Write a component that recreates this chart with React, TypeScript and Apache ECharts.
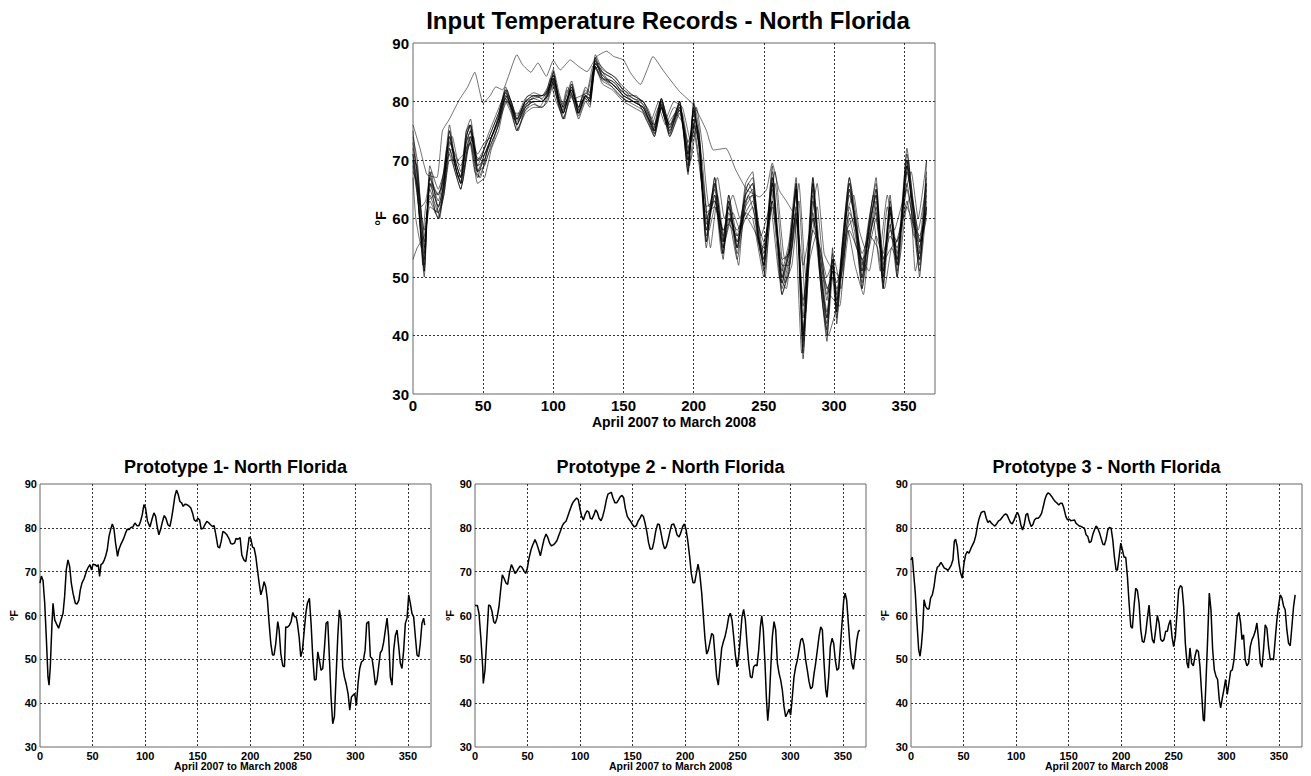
import React, { useEffect, useRef } from "react";
import * as echarts from "echarts";

// ---------- Top chart: input station records (values at shared event days) ----------
const TOP_DAYS = [
  0, 3, 8, 12, 18, 22, 26, 30, 34, 38,
  41, 46, 51, 56, 61, 66, 70, 74, 80, 86,
  92, 96, 100, 104, 107, 113, 118, 123, 126, 130,
  135, 142, 150, 157, 164, 168, 172, 177, 183, 190,
  196, 200, 204, 209, 215, 221, 225, 231, 237, 242,
  246, 250, 256, 263, 268, 273, 278, 285, 290, 295,
  299, 302, 306, 311, 316, 320, 325, 330, 335, 340,
  345, 352, 357, 361, 366,
];

const station1 = [
  71, 66, 50, 68, 62, 66, 75, 69, 66, 74,
  76, 68, 70, 74, 77, 82, 79, 76, 79.5, 80,
  80, 81, 85, 80, 78, 83, 78, 81, 80.5, 87.5,
  84, 83, 81, 80, 79, 77, 74.5, 80, 74.5, 80,
  67.5, 79, 72, 55, 66, 53, 63, 54, 64, 66,
  57, 51, 67, 48, 53, 66, 38, 66, 51, 42,
  53, 44, 55, 66, 58, 49, 58, 65, 49, 62,
  51, 70, 60, 52, 66,
];
const station2 = [
  72, 68, 52, 66, 64, 68, 74, 70, 67, 73,
  75, 70, 72, 75, 78, 81.5, 80, 77, 80, 81,
  80.5, 82, 84, 81, 79, 82, 79, 82, 81, 86.5,
  85, 84, 82, 80.5, 80, 78, 75, 80.5, 75.5, 79.5,
  70, 78, 74, 58, 64, 55, 61, 56, 63, 65,
  58, 53, 65, 50, 55, 64, 41, 63, 53, 44,
  52, 46, 54, 64, 59, 51, 59, 64, 51, 61,
  53, 68, 61, 55, 64,
];
const station3 = [
  53, 55, 57, 63, 60, 64, 71, 68, 65, 70,
  74, 68, 69, 73, 76, 80.5, 78.5, 75, 78.5, 79.5,
  79, 80.5, 83.5, 79.5, 77, 81.5, 77.5, 80.5, 79.5, 86,
  83.5, 82.5, 80.5, 79.5, 78.5, 76.5, 74, 79, 74, 78.5,
  72, 76, 70, 60, 63, 54, 60, 53, 61, 60,
  55, 50, 63, 47, 51, 62, 37, 61, 50, 40,
  50, 43, 52, 62, 56, 48, 56, 62, 48, 59,
  50, 66, 58, 51, 62,
];
const station4 = [
  69, 64, 53, 67, 63, 67, 73, 71, 68, 75,
  77, 70, 71, 74, 77.5, 82.5, 80, 77.5, 80.5, 81.5,
  81, 82.5, 85.5, 81.5, 79.5, 83.5, 79, 82.5, 81.5, 88,
  85.5, 84.5, 82.5, 81, 80, 78.5, 76, 80.5, 76, 80,
  68, 80, 75, 56, 67, 56, 64, 55, 65, 67,
  59, 54, 68, 51, 56, 67, 43, 67, 54, 46,
  54, 47, 56, 67, 60, 52, 60, 66, 52, 63,
  54, 71, 62, 56, 68,
];
const station5 = [
  74, 70, 55, 65, 61, 65, 72, 69, 66, 72,
  73, 67, 71, 73, 76, 81, 79.5, 76, 79, 80,
  80, 81, 84, 80, 78, 82, 78, 81, 80, 87,
  84.5, 83, 81, 80, 79, 77, 75, 79.5, 75, 79,
  70, 77, 72, 58, 65, 55, 62, 55, 62, 64,
  56, 52, 66, 49, 54, 65, 40, 65, 52, 43,
  51, 45, 53, 65, 57, 50, 57, 63, 50, 62,
  52, 69, 59, 53, 65,
];
const station6 = [
  70, 65, 51, 69, 65, 68, 76, 70, 67, 73,
  75, 69, 70, 74, 77, 81, 79, 76.5, 80, 80.5,
  81, 81.5, 85, 80.5, 78, 82.5, 78.5, 81, 80.5, 87,
  84, 83.5, 81.5, 80.5, 79.5, 77.5, 75, 80, 75, 79.5,
  69, 78.5, 73, 59, 66, 57, 62, 56, 63, 64,
  58, 52, 66, 50, 54, 65, 39, 64, 52, 41,
  52, 44, 55, 65, 58, 50, 58, 64, 50, 61,
  52, 69, 60, 53, 63,
];
const station7 = [
  68, 66, 58, 64, 60, 65, 72, 68, 65, 71,
  73, 66, 67, 72, 75, 80, 78, 75, 78, 79,
  79, 80, 83, 79, 77, 81, 77, 80, 79, 86,
  83, 82, 80, 79, 78, 76, 74, 79, 74, 78,
  71, 75, 69, 61, 62, 58, 59, 57, 60, 62,
  56, 55, 62, 52, 52, 60, 45, 58, 55, 48,
  50, 48, 51, 60, 55, 53, 55, 60, 53, 57,
  55, 63, 57, 56, 60,
];
const station8 = [
  73, 67, 54, 66, 62, 66, 74, 69, 66, 74,
  76, 69, 72, 75, 78, 82, 80, 77, 80, 81,
  81, 82, 84.5, 80, 78.5, 83, 78, 81.5, 81, 87.5,
  85, 84, 82, 81, 80, 78, 75.5, 80.5, 75.5, 80,
  71, 79, 74, 57, 64, 54, 63, 55, 66, 68,
  57, 52, 69, 47, 52, 65, 36, 67, 50, 39,
  55, 42, 56, 67, 57, 48, 59, 67, 48, 64,
  50, 72, 61, 50, 70,
];
const station9 = [
  70, 69, 56, 62, 61, 64, 70, 70, 69, 72,
  74, 71, 73, 74, 76.5, 80.5, 79, 77, 79, 80,
  80, 81, 83.5, 80.5, 79, 82, 79, 81, 80, 86,
  84, 83, 81, 80, 79, 77, 76, 79, 76, 78.5,
  73, 76, 73, 62, 63, 58, 60, 58, 61, 63,
  59, 56, 63, 53, 54, 61, 46, 60, 54, 47,
  51, 49, 53, 61, 58, 54, 57, 61, 54, 58,
  56, 65, 59, 57, 61,
];
const station10 = [
  71, 65, 51, 67, 64, 67, 75, 70, 67, 75,
  76, 68, 71, 74, 77, 81.5, 79, 76, 79.5, 80.5,
  80, 81.5, 84.5, 80, 78, 82.5, 78, 81, 80, 86.5,
  84.5, 83, 81.5, 80, 79, 77, 74.5, 79.5, 74.5, 79,
  68, 79.5, 72, 56, 67, 56, 64, 57, 64, 66,
  57, 53, 67, 49, 55, 66, 40, 66, 52, 43,
  53, 46, 55, 66, 59, 51, 58, 65, 51, 62,
  53, 70, 61, 54, 67,
];

// stations sampled on their own days
const DAYS_A = [
  0, 2, 6, 9, 13, 16, 20, 24, 28, 32,
  36, 40, 44, 48, 53, 58, 63, 67, 72, 76,
  82, 88, 94, 98, 102, 106, 110, 115, 120, 124,
  128, 132, 138, 145, 152, 159, 165, 170, 175, 180,
  186, 192, 198, 202, 206, 211, 217, 222, 228, 233,
  239, 244, 248, 253, 258, 265, 270, 275, 280, 283,
  288, 293, 297, 304, 309, 314, 318, 322, 328, 333,
  338, 343, 349, 355, 360, 366,
];
const station12 = [
  67, 60, 55, 62, 66, 61, 63, 70, 72, 67,
  68, 74, 68, 67, 72, 75, 79, 81, 77, 77,
  80, 81, 80, 83, 80, 78, 82, 80, 80, 81,
  85, 86, 84, 83, 80, 80, 78, 76, 79, 76,
  79, 78, 70, 76, 70, 58, 64, 56, 61, 58,
  64, 60, 54, 59, 66, 49, 52, 63, 44, 55,
  62, 50, 47, 45, 58, 60, 55, 51, 60, 51,
  62, 55, 60, 64, 58, 66,
];
const station13 = [
  75, 70, 62, 63, 68, 64, 65, 72, 74, 70,
  71, 76, 71, 70, 74, 77, 80, 82, 78, 78,
  81, 81, 81, 84, 81, 79, 82.5, 80.5, 81, 81.5,
  86, 86.5, 85, 84, 81, 81, 79, 77, 80, 77,
  80, 79, 73, 79, 73, 62, 67, 60, 64, 60,
  66, 63, 57, 61, 68, 53, 55, 66, 50, 58,
  66, 54, 52, 50, 61, 64, 58, 55, 64, 55,
  64, 58, 63, 68, 60, 70,
];
const DAYS_B = [
  0, 4, 7, 11, 15, 19, 24, 27, 31, 35,
  39, 43, 47, 52, 57, 62, 67, 71, 75, 79,
  85, 90, 95, 99, 103, 108, 112, 117, 121, 125,
  129, 134, 140, 147, 154, 160, 166, 171, 176, 181,
  187, 193, 197, 201, 207, 212, 216, 220, 226, 232,
  236, 241, 247, 251, 255, 261, 266, 272, 277, 282,
  287, 292, 296, 301, 305, 310, 315, 321, 326, 331,
  336, 341, 347, 353, 358, 366,
];
const station14 = [
  70, 62, 52, 63, 64, 60, 71, 73, 68, 66,
  72, 74, 67, 70, 73, 77, 80, 79, 75, 78,
  80, 79, 81, 84, 80, 77, 82, 78, 81, 80,
  86, 84, 83, 81, 80, 80, 77, 75, 80, 76,
  78, 76, 69, 77, 66, 55, 62, 54, 60, 52,
  61, 59, 56, 50, 62, 50, 48, 60, 37, 52,
  57, 45, 40, 44, 50, 58, 52, 47, 57, 55,
  48, 55, 57, 70, 51, 62,
];

// warm outlier station
const OUTLIER_DAYS = [
  0, 5, 10, 17, 21, 26, 33, 39, 44, 50,
  55, 59, 64, 68, 74, 78, 84, 89, 95, 100,
  105, 112, 118, 124, 131, 138, 143, 150, 155, 162,
  167, 171, 178, 184, 190, 200, 209, 214, 223, 230,
  238, 247, 252, 256, 261, 266, 273, 278, 285, 290,
  295, 300, 305, 311, 318, 325, 330, 336, 341, 346,
  352, 358, 362, 366,
];
const outlierTemps = [
  76, 72, 67.5, 67, 75, 77, 80.3, 82.5, 85, 79.7,
  81, 82.5, 82, 84.3, 88, 86.3, 85, 86.6, 84.3, 87,
  85.4, 87.1, 86, 85.1, 87.7, 88.6, 87.7, 87.1, 84.9, 82.9,
  85.5, 87.7, 85.4, 83.5, 81.7, 79.4, 75.1, 71.7, 72, 68.3,
  64.9, 63.7, 65, 69.5, 64.8, 63, 60, 52, 60, 55,
  50, 53, 48, 58, 54, 51, 57, 53, 55, 52,
  62, 58, 56, 62,
];

// ---------- Prototypes: [day, °F] ----------
const proto1: number[][] = [
  [0, 67.4], [1.3, 69], [2.9, 68], [4.5, 62.8], [6, 55], [7.6, 46], [8.6, 44.1], [9.8, 48.3], [11.4, 58.2], [12.4, 62.8],
  [14, 59], [15.5, 58.2], [17.7, 57.1], [20, 59], [21.9, 60.5], [23.4, 64.3], [25, 70.4], [26.6, 72.7], [28.2, 71.2], [29.8, 67.4],
  [31.4, 65.1], [33.6, 62.8], [35.2, 62.6], [37, 63.5], [38.3, 65.8], [39.9, 67.4], [42.1, 68.5], [44, 70], [45.9, 71], [47.5, 71.6],
  [49.1, 70.4], [50.4, 71.7], [52.3, 71.6], [54.2, 71.2], [55.4, 71.6], [56.7, 68.9], [58, 71.6], [59.6, 71.9], [61.2, 72.7], [62.4, 73.5],
  [64, 75], [65.6, 78], [67.2, 79.6], [68.8, 80.9], [70.3, 79.9], [71.9, 76.5], [73.8, 73.5], [75, 75], [76.7, 76.1], [78.3, 76.9],
  [79.8, 77.7], [81.4, 78.8], [83, 79.7], [84.9, 79.6], [86.5, 80.1], [88.4, 80.2], [90.3, 81.1], [92.2, 80.5], [94.1, 80.5], [95.7, 81.5],
  [97.3, 83], [98.9, 85.3], [100.4, 84.5], [102.3, 81.5], [104.6, 80.2], [106.8, 82.2], [108.4, 83.4], [110, 82.6], [111.5, 80.3], [113.1, 78.4],
  [114.7, 79.6], [116.6, 81.5], [118.2, 82.8], [119.8, 82.2], [121.7, 80.7], [123.6, 80.3], [125.2, 82.2], [126.7, 84.5], [128.3, 87.2], [129.9, 88.6],
  [131.5, 87.6], [133.1, 86], [134.7, 85.7], [136.3, 84.9], [137.8, 85.4], [139.7, 85.3], [141.6, 85], [143.5, 84.5], [145.1, 83.4], [146.7, 81.8],
  [148.6, 81.5], [150.2, 82.2], [151.8, 81.8], [153.4, 79.7], [155.3, 79.9], [156.8, 80.7], [158.7, 81.5], [160.3, 81.2], [162.2, 80.7], [164.1, 80.3],
  [165.7, 80.5], [167.6, 78], [169.2, 75.7], [170.8, 75.4], [172.4, 76.9], [174, 79.2], [175.9, 78.9], [177.8, 78.4], [179.7, 77.6], [181.6, 76.4],
  [183.1, 76.3], [185, 76.5], [186.6, 77.6], [188.5, 77.4], [190.4, 77.8], [192, 73.8], [193.9, 72.7], [195.8, 72.3], [197.4, 75], [199, 77.9],
  [200.6, 77.5], [202.2, 75.6], [203.7, 75.4], [205.3, 73.5], [206.9, 70.4], [208.5, 67.4], [210.1, 64.7], [211.7, 66], [213.2, 67.7], [214.8, 66.5],
  [216.4, 63.5], [218, 58.2], [219.6, 53.6], [221.2, 51], [222.7, 51], [224.3, 53.6], [226.2, 58.6], [227.5, 56.7], [229.1, 51.3], [231, 48.5],
  [232.6, 48.3], [233.8, 57.4], [235.4, 57.3], [237.3, 57.8], [238.9, 58.6], [240.5, 60.7], [242.1, 59.7], [243.7, 59.7], [244.9, 58.2], [246.5, 55.2],
  [248.1, 50.6], [249.7, 52.1], [251.3, 56.3], [252.9, 60.5], [254.4, 62.8], [256.3, 63.9], [257.9, 58.2], [259.5, 50.6], [261.1, 45.3], [262.7, 45.4],
  [264.3, 51.7], [265.8, 49.8], [267.4, 47.5], [269, 47.9], [270.6, 52.5], [272.2, 58.2], [273.8, 58.6], [275.3, 50.6], [276.9, 41.4], [278.5, 35.3],
  [280.1, 36.9], [281.7, 46], [283.3, 55.2], [284.8, 61.3], [286.4, 59], [288, 48.3], [289.6, 46], [291.2, 44.5], [293.1, 42.2], [294.7, 38.4],
  [296.3, 41.4], [297.8, 41.8], [299.4, 42.2], [301, 39.5], [302.6, 44.5], [304.2, 47.9], [305.8, 49.4], [307.7, 49.8], [309.3, 52.1], [310.8, 58.2],
  [312.7, 58.6], [314.3, 50.6], [315.9, 50.2], [317.5, 47.5], [319.1, 44.1], [320.7, 45.3], [322.2, 48.3], [323.8, 51.5], [325.4, 52.1], [327, 54],
  [328.6, 56.7], [330.2, 59.4], [331.7, 55.2], [333.3, 46], [334.9, 44.1], [336.5, 52.1], [338.1, 55.5], [339.7, 56.7], [341.3, 52.9], [342.8, 49.1],
  [344.4, 47.9], [346, 52.1], [347.6, 58.2], [349.2, 59.4], [350.8, 64.7], [352.3, 62.8], [353.9, 60.5], [355.5, 59.7], [357.1, 55.2], [358.7, 51],
  [360.3, 50.6], [361.8, 53.6], [363.4, 58.2], [365, 59.4], [366, 57.8],
];

const proto2: number[][] = [
  [0, 62.3], [2.2, 62.3], [3.8, 60.5], [5.7, 54.4], [7.3, 48.3], [7.9, 44.5], [9.5, 47.5], [11.1, 54.4], [13, 62.4], [14.6, 62.2],
  [16.2, 60.9], [17.8, 58.6], [19.3, 58.2], [20.9, 59.4], [22.8, 62], [24.4, 65.8], [26, 69.3], [27.6, 68.5], [29.5, 67.4], [31.1, 67.1],
  [32.7, 69.6], [34.6, 71.6], [36.2, 70.8], [38.1, 69.6], [39.6, 70], [41.5, 70.8], [43.1, 71.3], [44.7, 71], [46.6, 70.2], [48.2, 69.6],
  [49.8, 70.8], [51.4, 73.1], [53.3, 75], [54.9, 76.1], [57.1, 77.3], [58.7, 76.4], [60.6, 75], [62.2, 73.6], [64.1, 75.7], [65.7, 77.4],
  [67.6, 78.6], [69.1, 77.9], [71, 76.5], [72.6, 75.9], [74.5, 76.1], [76.1, 76.5], [78, 77.1], [79.6, 78.2], [81.2, 79.2], [83.1, 80.5],
  [84.7, 81.1], [86.6, 81.5], [88.2, 82.6], [89.8, 83.7], [91.7, 85], [93.2, 85.8], [94.8, 86.3], [96.7, 86.8], [98.3, 86.4], [99.9, 84.3],
  [101.5, 82.6], [103.1, 81.8], [104.7, 83], [106.6, 83.9], [108.2, 83.6], [109.7, 82.2], [111.3, 82], [113.2, 83], [114.8, 84.1], [116.4, 83.5],
  [118, 82.2], [119.9, 81.6], [121.5, 82.6], [123.1, 84.1], [125, 86.4], [126.5, 87.7], [128.1, 87.9], [129.7, 88.1], [131.3, 86.8], [133.2, 85.7],
  [134.8, 85.7], [136.4, 86.3], [138.3, 87.1], [139.9, 87.4], [141.5, 86.8], [143, 84.5], [144.9, 82.6], [146.5, 82], [148.1, 81.5], [150, 80.7],
  [151.6, 80.2], [153.5, 80.5], [155.1, 81.5], [157, 82.2], [158.6, 83], [160.2, 82.6], [161.8, 81.1], [163.7, 78.8], [165.2, 76.5], [166.8, 75.1],
  [168.7, 75.2], [170.3, 76.9], [171.9, 79.2], [173.8, 80.9], [175.4, 80.7], [177, 78.8], [178.9, 76.4], [180.4, 75.2], [182, 75.7], [183.9, 77.4],
  [185.5, 79.2], [187.1, 80.7], [189, 80.9], [190.6, 79.9], [192.2, 78.4], [194.1, 77.9], [195.7, 78.8], [197.6, 80.3], [199.2, 80.9], [200.8, 79.6],
  [202.3, 77.3], [204.2, 73.5], [205.8, 69.6], [207.4, 67.5], [209, 67.5], [210.6, 69.6], [212.2, 71.7], [213.8, 69.6], [215.7, 65.1], [217.3, 59.7],
  [218.8, 54.8], [220.4, 51.2], [222, 52.1], [223.6, 54], [225.2, 55.9], [226.8, 55.5], [228.4, 50.6], [229.9, 46], [231.5, 44.1], [233.1, 48.3],
  [234.7, 52.5], [236.3, 54], [237.9, 55.2], [239.8, 57.4], [241.4, 59.7], [242.9, 60.5], [244.5, 59], [246.1, 55.2], [247.7, 51], [249.3, 48.3],
  [250.9, 50.6], [252.5, 55.2], [254, 59.7], [255.6, 61.4], [257.2, 59], [258.8, 53.6], [260.4, 49.1], [262, 46], [263.6, 45.8], [265.1, 48.3],
  [266.7, 48.7], [268.3, 48.5], [269.9, 52.1], [271.5, 57.4], [272.8, 59.9], [274.3, 56.7], [275.9, 49.1], [277.2, 41.4], [278.5, 36], [279.7, 39.2],
  [281.3, 47.5], [282.9, 55.2], [284.5, 58.6], [286.1, 56.7], [287.7, 49.1], [289.3, 46.8], [290.8, 45.3], [292.4, 43], [294, 39.2], [295.6, 36.9],
  [297.2, 37.7], [298.8, 38.6], [300.3, 37.3], [301.9, 41.4], [303.5, 46], [305.1, 48.3], [306.7, 49.8], [308.3, 52.1], [309.9, 54.4], [311.4, 54.8],
  [313, 53.3], [314.6, 49.8], [316.2, 47.5], [317.8, 44.9], [319.4, 43.3], [321, 43.7], [322.6, 46.8], [324.1, 49.1], [325.7, 52.1], [327.3, 55.2],
  [328.9, 57.4], [330.5, 56.7], [332.1, 49.1], [333.7, 43], [334.9, 41.3], [336.5, 46], [338.1, 52.9], [339.7, 54.8], [341.3, 53.6], [342.8, 49.8],
  [344.4, 47.5], [346, 47.9], [347.6, 52.9], [349.2, 58.2], [350.8, 63.5], [352.1, 65.1], [353.6, 63.5], [355.2, 58.2], [356.8, 52.9], [358.4, 49.1],
  [360, 47.7], [361.6, 50.6], [363.2, 54.4], [364.7, 56.3], [366, 56.7],
];

const proto3: number[][] = [
  [0, 72.7], [1.3, 73.3], [2.5, 69.7], [4.1, 65.1], [5.7, 58.3], [7.3, 52.2], [8.6, 50.7], [9.8, 52.9], [11.1, 56.7], [12.4, 63.6],
  [13.9, 62.1], [15.5, 61.5], [17.1, 61.5], [18.7, 64], [20.3, 64.7], [21.9, 66.6], [23.4, 69.3], [25, 71], [26.6, 71.3], [28.5, 72.1],
  [30.1, 71.5], [31.7, 70.8], [33.6, 70.6], [35.2, 70.3], [36.7, 70.8], [38.3, 71.5], [39.9, 72.7], [41.2, 76.9], [42.4, 77.4], [44, 75.7],
  [45.6, 71.9], [47.2, 69.7], [48.8, 68.5], [50.4, 71.9], [51.9, 73.8], [53.5, 74.6], [55.1, 74.2], [57, 75.3], [58.6, 76.1], [60.2, 76.9],
  [61.8, 78.4], [63.4, 80.7], [64.9, 82.2], [66.8, 83.5], [68.4, 83.7], [70, 83.7], [71.6, 82.2], [73.2, 81.2], [74.8, 81.6], [76.7, 81],
  [78.2, 80.7], [79.8, 80.4], [81.7, 81], [83.3, 81.6], [84.9, 81.8], [86.5, 82.3], [88.4, 82.9], [90, 83.2], [91.5, 82.9], [93.1, 82],
  [94.7, 81.2], [96.3, 80.9], [98.2, 81.8], [99.8, 82.9], [101.4, 83.5], [102.9, 82.6], [104.5, 80.7], [106.1, 79.5], [107.7, 80.7], [109.3, 82.9],
  [110.9, 83.3], [112.4, 81.6], [114.3, 80.3], [115.9, 80.7], [117.5, 81.8], [119.1, 82.2], [121, 82.2], [122.6, 82.6], [124.2, 83.3], [125.8, 84.8],
  [127.3, 86.4], [128.9, 87.5], [130.5, 88], [132.1, 87.7], [134, 87.1], [135.6, 86.5], [137.2, 86], [138.7, 85.7], [140.6, 85.2], [142.2, 85.6],
  [143.8, 85.6], [145.4, 84.5], [147.3, 82.6], [148.9, 81.8], [150.5, 82], [152, 81.6], [153.6, 81.7], [155.5, 81.8], [157.1, 81], [158.7, 80.7],
  [160.3, 80.4], [161.9, 80.3], [163.4, 80.1], [165, 79.9], [166.6, 78.4], [168.2, 78], [169.8, 76.6], [171.4, 76.9], [172.9, 78.4], [174.5, 79.5],
  [176.1, 80.4], [177.7, 79.9], [179.3, 78.9], [180.9, 77.6], [182.5, 76.3], [184, 76.1], [185.6, 77.4], [187.2, 79.5], [188.8, 80.1], [190.4, 79.9],
  [192, 77.2], [193.5, 73.4], [195.1, 70.4], [196.4, 70.4], [198, 73.4], [199.6, 76.5], [201.1, 75], [202.7, 73.3], [204.3, 73.3], [205.9, 68.9],
  [207.5, 62.8], [209.1, 57.5], [210.6, 57.1], [212.2, 62.1], [213.8, 66.2], [215.4, 65.7], [217, 62.8], [218.6, 56.7], [220.1, 54.1], [221.7, 53.9],
  [223.3, 56], [224.9, 59.4], [226.5, 62.4], [228.1, 57.5], [229.6, 54.5], [231.2, 53.7], [232.8, 56.7], [234.4, 60], [236, 58.3], [237.6, 54.5],
  [239.1, 54.1], [240.7, 54.5], [242.3, 56.4], [243.9, 56.4], [245.2, 57.9], [246.8, 59], [248.3, 55.2], [249.9, 52.9], [251.5, 55.2], [253.1, 60.5],
  [254.7, 65.9], [256.3, 66.8], [257.8, 66.5], [259.4, 62.1], [261, 53.7], [262.6, 49.1], [263.9, 48], [265.4, 52.6], [267, 49.1], [268.6, 48.5],
  [270.2, 50.7], [271.8, 52.2], [273.4, 51.8], [274.9, 48.4], [276.5, 42.3], [278.1, 36.2], [279.1, 35.9], [280.6, 44.6], [282.2, 54.5], [283.8, 65.1],
  [285.4, 61.3], [287, 52.2], [288.6, 47.6], [290.2, 46.1], [291.7, 45.4], [293.3, 40.8], [294.6, 38.9], [296.2, 41.2], [297.7, 43.1], [299.3, 45.4],
  [300.9, 42], [302.5, 44.6], [304.1, 47.3], [305.7, 47.6], [307.3, 49.9], [308.8, 54.5], [310.4, 59.8], [312, 60.7], [313.6, 58.3], [314.9, 54.5],
  [316.4, 55.6], [318, 49.9], [319.6, 48.5], [321.2, 49.1], [322.8, 52.9], [324.4, 54.5], [326, 55.3], [327.5, 56.4], [329.1, 58.3], [330.7, 54.5],
  [332.3, 49.1], [333.9, 48.2], [335.4, 52.2], [337, 57.9], [338.6, 57.1], [340.2, 52.9], [341.8, 49.9], [343.4, 50.1], [344.9, 49.9], [346.5, 54.5],
  [348.1, 59], [349.7, 62.1], [351.3, 64.7], [352.9, 64], [354.5, 62.1], [356, 61.3], [357.6, 56.7], [359.2, 53.7], [360.8, 53.1], [362.4, 57.5],
  [364, 62.1], [365.5, 64.7],
];

const FONT = "'Liberation Sans', Arial, Helvetica, sans-serif";

export default function App() {
  const ref = useRef<HTMLDivElement>(null);

  useEffect(() => {
    if (!ref.current) return;
    const chart = echarts.init(ref.current, null, { renderer: "svg" });

    const grids = [
      { left: 413, top: 43, width: 522, height: 351 },
      { left: 40, top: 484, width: 391, height: 263 },
      { left: 475, top: 484, width: 391, height: 263 },
      { left: 911, top: 484, width: 391, height: 263 },
    ];
    const big = [true, false, false, false];

    const gridLine = { show: true, showMinLine: false, showMaxLine: false, lineStyle: { color: "#333", width: 1, type: [2, 2] as any } };

    const xAxis = grids.map((_, i) => ({
      type: "value",
      gridIndex: i,
      min: 0,
      max: 372,
      interval: 50,
      axisLine: { show: false },
      axisTick: { show: false },
      splitLine: gridLine,
      axisLabel: {
        showMaxLabel: false,
        color: "#000",
        fontWeight: "bold",
        fontFamily: FONT,
        fontSize: big[i] ? 15 : 11,
        margin: big[i] ? 4 : 3,
      },
    }));
    const yAxis = grids.map((_, i) => ({
      type: "value",
      gridIndex: i,
      min: 30,
      max: 90,
      interval: 10,
      axisLine: { show: false },
      axisTick: { show: false },
      splitLine: gridLine,
      axisLabel: {
        color: "#000",
        fontWeight: "bold",
        fontFamily: FONT,
        fontSize: big[i] ? 15 : 11,
        margin: big[i] ? 4 : 3,
      },
    }));

    const topLine = (name: string, days: number[], temps: number[], opacity: number) => ({
      name,
      type: "line",
      xAxisIndex: 0,
      yAxisIndex: 0,
      showSymbol: false,
      smooth: 0.15,
      data: days.map((d, i) => [d, temps[i]]),
      lineStyle: { color: "#000", width: 0.8, opacity },
      silent: true,
    });

    const shared = [station1, station2, station3, station4, station5, station6, station7, station8, station9, station10];
    const topSeries: any[] = shared.map((s, k) => topLine("station" + (k + 1), TOP_DAYS, s, 0.75));
    topSeries.push(topLine("station11", OUTLIER_DAYS, outlierTemps, 0.7));
    topSeries.push(topLine("station12", DAYS_A, station12, 0.7));
    topSeries.push(topLine("station13", DAYS_A, station13, 0.7));
    topSeries.push(topLine("station14", DAYS_B, station14, 0.7));

    const protos = [proto1, proto2, proto3];
    const protoSeries = protos.map((p, k) => ({
      name: "Prototype " + (k + 1),
      type: "line",
      xAxisIndex: k + 1,
      yAxisIndex: k + 1,
      showSymbol: false,
      data: p,
      lineStyle: { color: "#000", width: 1.5 },
      silent: true,
    }));

    const text = (x: number, y: number, t: string, size: number, rotate = 0) => ({
      type: "text",
      x,
      y,
      rotation: rotate,
      style: {
        text: t,
        fill: "#000",
        fontSize: size,
        fontWeight: "bold",
        fontFamily: FONT,
        align: "center",
        verticalAlign: "middle",
      },
    });

    const centers = grids.map((g) => g.left + g.width / 2);
    const graphic = [
      text(668, 20.5, "Input Temperature Records - North Florida", 24),
      text(674, 421.5, "April 2007 to March 2008", 14),
      text(380.5, 218.5, "°F", 14.5, Math.PI / 2),
      text(centers[1], 466.5, "Prototype 1- North Florida", 18),
      text(centers[2], 466.5, "Prototype 2 - North Florida", 18),
      text(centers[3], 466.5, "Prototype 3 - North Florida", 18),
      text(centers[1], 766, "April 2007 to March 2008", 10.5),
      text(centers[2], 766, "April 2007 to March 2008", 10.5),
      text(centers[3], 766, "April 2007 to March 2008", 10.5),
      text(13.5, 615.5, "°F", 11, Math.PI / 2),
      text(450, 615.5, "°F", 11, Math.PI / 2),
      text(885, 615.5, "°F", 11, Math.PI / 2),
    ];

    chart.setOption({
      animation: false,
      backgroundColor: "#fff",
      grid: grids.map((g) => ({ ...g, show: true, borderColor: "#666", borderWidth: 1, backgroundColor: "transparent" })),
      xAxis,
      yAxis,
      series: [...topSeries, ...protoSeries],
      graphic,
    } as any);

    return () => chart.dispose();
  }, []);

  return (
    <div
      ref={ref}
      style={{ position: "fixed", left: 0, top: 0, width: 1311, height: 776, background: "#fff" }}
    />
  );
}
